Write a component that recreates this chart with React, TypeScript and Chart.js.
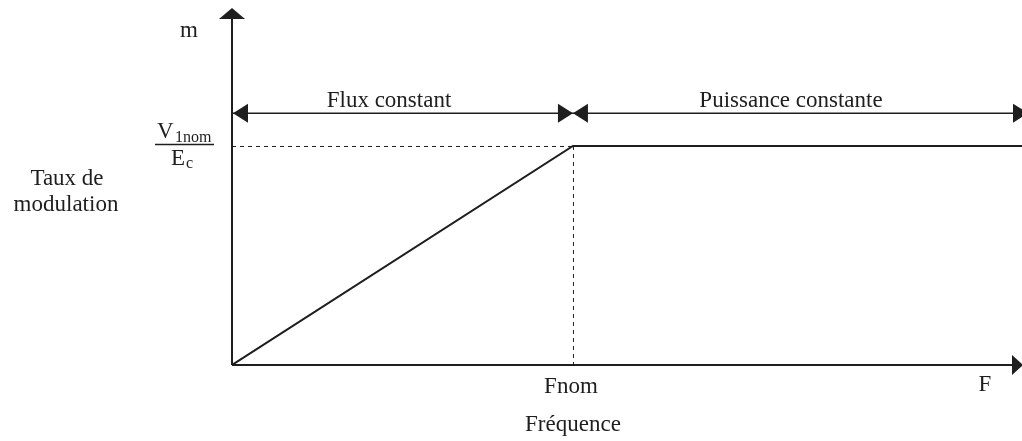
import React, { useEffect, useRef } from "react";
import { Chart, registerables } from "chart.js";

Chart.register(...registerables);

// Data (normalised: Fnom = 1, V1nom/Ec = 1)
const frequency = [0, 1, 2.317];
const modulation = [0, 1, 1];
const X_MAX = 2.317;
const Y_MAX = 1.63;
const ARROW_LEVEL = 1.15;
const FNOM = 1;
const M_NOM = 1;
const regionLabels = ["Flux constant", "Puissance constante"];
const axisLabels = { y: "m", yTitle: ["Taux de", "modulation"], xTick: "Fnom", x: "F", xTitle: "Fréquence" };

const INK = "#1e1e1e";
const FONT = "Liberation Serif, 'Times New Roman', serif";

function tri(ctx: CanvasRenderingContext2D, tx: number, ty: number, dx: number, dy: number, len: number, half: number) {
  const bx = tx - dx * len, by = ty - dy * len;
  const px = -dy, py = dx;
  ctx.beginPath();
  ctx.moveTo(tx, ty);
  ctx.lineTo(bx + px * half, by + py * half);
  ctx.lineTo(bx - px * half, by - py * half);
  ctx.closePath();
  ctx.fill();
}

const decor = {
  id: "decor",
  afterDraw(chart: any) {
    const ctx: CanvasRenderingContext2D = chart.ctx;
    const xs = chart.scales.x, ys = chart.scales.y;
    const x0 = xs.getPixelForValue(0), y0 = ys.getPixelForValue(0);
    const xEnd = xs.getPixelForValue(X_MAX), yTop = ys.getPixelForValue(Y_MAX);
    const xN = xs.getPixelForValue(FNOM), yN = ys.getPixelForValue(M_NOM);
    const yA = ys.getPixelForValue(ARROW_LEVEL);
    ctx.save();
    ctx.strokeStyle = INK;
    ctx.fillStyle = INK;

    // dashed guides
    ctx.lineWidth = 1;
    ctx.setLineDash([4, 4]);
    ctx.beginPath();
    ctx.moveTo(x0, yN + 0.5);
    ctx.lineTo(xN, yN + 0.5);
    ctx.moveTo(xN + 0.5, yN);
    ctx.lineTo(xN + 0.5, y0);
    ctx.stroke();
    ctx.setLineDash([]);

    // axes
    ctx.lineWidth = 2;
    ctx.beginPath();
    ctx.moveTo(x0, y0);
    ctx.lineTo(x0, yTop + 8);
    ctx.moveTo(x0, y0);
    ctx.lineTo(xEnd - 6, y0);
    ctx.stroke();
    tri(ctx, x0, yTop, 0, -1, 11, 13);
    tri(ctx, xEnd + 1, y0, 1, 0, 11, 10);

    // region double arrows
    ctx.lineWidth = 1.5;
    ctx.beginPath();
    ctx.moveTo(x0, yA);
    ctx.lineTo(xEnd, yA);
    ctx.stroke();
    tri(ctx, x0 + 1, yA, -1, 0, 15, 9.5);
    tri(ctx, xN, yA, 1, 0, 15, 9.5);
    tri(ctx, xN, yA, -1, 0, 15, 9.5);
    tri(ctx, xEnd + 6, yA, 1, 0, 15, 9.5);

    // texts
    ctx.font = `23px ${FONT}`;
    ctx.textAlign = "center";
    ctx.textBaseline = "alphabetic";
    ctx.fillText(regionLabels[0], 389, yA - 6);
    ctx.fillText(regionLabels[1], 791, yA - 6);
    ctx.fillText(axisLabels.y, 189, 37);
    ctx.fillText(axisLabels.yTitle[0], 67, 185);
    ctx.fillText(axisLabels.yTitle[1], 66, 211);
    ctx.fillText(axisLabels.xTick, xN - 2, y0 + 28);
    ctx.fillText(axisLabels.x, 985, y0 + 26);
    ctx.fillText(axisLabels.xTitle, xN, y0 + 66);

    // fraction V1nom / Ec
    ctx.textAlign = "left";
    ctx.font = `23px ${FONT}`;
    ctx.fillText("V", 157, yN - 8);
    ctx.font = `16px ${FONT}`;
    ctx.fillText("1nom", 175, yN - 4);
    ctx.font = `23px ${FONT}`;
    ctx.fillText("E", 171, yN + 19);
    ctx.font = `16px ${FONT}`;
    ctx.fillText("c", 186, yN + 22);
    ctx.lineWidth = 1.3;
    ctx.beginPath();
    ctx.moveTo(155, yN - 1.5);
    ctx.lineTo(214, yN - 1.5);
    ctx.stroke();
    ctx.restore();
  },
};

export default function App() {
  const ref = useRef<HTMLCanvasElement>(null);
  useEffect(() => {
    if (!ref.current) return;
    const chart = new Chart(ref.current, {
      type: "line",
      data: {
        datasets: [
          {
            data: frequency.map((f, i) => ({ x: f, y: modulation[i] })),
            borderColor: INK,
            borderWidth: 2,
            pointRadius: 0,
            tension: 0,
            fill: false,
          },
        ],
      },
      options: {
        animation: false,
        responsive: false,
        maintainAspectRatio: false,
        layout: { padding: { left: 232, right: 0, top: 8, bottom: 76 } },
        plugins: { legend: { display: false }, tooltip: { enabled: false } },
        scales: {
          x: { type: "linear", min: 0, max: X_MAX, display: false },
          y: { type: "linear", min: 0, max: Y_MAX, display: false },
        },
      },
      plugins: [decor],
    });
    return () => chart.destroy();
  }, []);
  return (
    <div style={{ position: "fixed", left: 0, top: 0, width: 1022, height: 441, background: "#fff" }}>
      <canvas ref={ref} width={1022} height={441} style={{ width: 1022, height: 441 }} />
    </div>
  );
}
